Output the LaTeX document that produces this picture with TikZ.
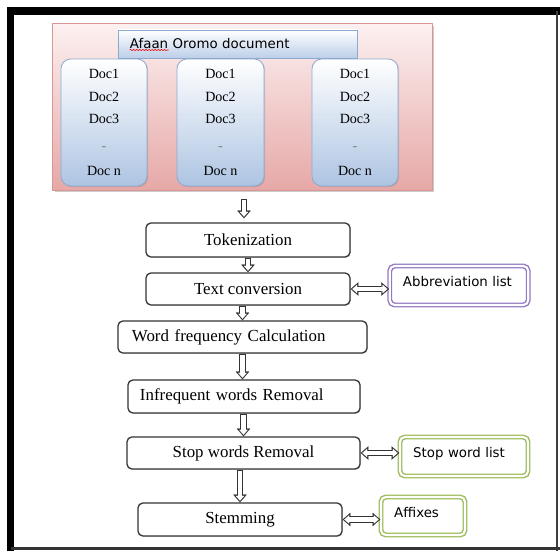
\documentclass[tikz,border=0pt]{standalone}
\usepackage{fontspec}
\setmainfont{Liberation Serif}
\newfontfamily\listfont{DejaVu Sans}
\usetikzlibrary{arrows.meta,calc,shadows,decorations.pathmorphing}
\definecolor{pinkline}{HTML}{D99694}
\definecolor{pinktop}{HTML}{FCF0F0}
\definecolor{pinkbot}{HTML}{E6A8A7}
\definecolor{docline}{HTML}{8EA9CF}
\definecolor{docbot}{HTML}{ADC4E2}
\definecolor{titlebot}{HTML}{BCCFE8}
\definecolor{abbrline}{HTML}{9478C2}
\definecolor{listgreen}{HTML}{9BBB59}

\begin{document}
\begin{tikzpicture}[x=0.025cm, y=-0.025cm,
    stepbox/.style={draw=black!80, line width=0.9pt, rounded corners=3.5pt, fill=white,
        drop shadow={shadow xshift=0.6pt, shadow yshift=-0.6pt, opacity=0.3},
        font=\fontsize{12}{14}\selectfont, inner sep=0pt, minimum width=5.1cm, minimum height=0.8cm},
    listbox/.style={draw=#1, line width=1pt, double=white, double distance=1.5pt, rounded corners=3.5pt, fill=white,
        font=\listfont\fontsize{9.5}{11}\selectfont, align=left, inner xsep=0.33cm, inner ysep=0pt,
        text depth=2mm, minimum height=0.975cm},
    docbox/.style={draw=docline, line width=0.6pt, rounded corners=7pt, top color=white, bottom color=docbot,
        drop shadow={shadow xshift=0.8pt, shadow yshift=-0.8pt, opacity=0.3},
        font=\fontsize{10}{16}\selectfont, align=center, minimum width=2.15cm, minimum height=3.175cm},
    hollow/.style={draw=black!80, line width=4.6pt, -{Triangle[length=5.5pt, width=9.5pt, line width=0.1pt]},
        postaction={draw=white, line width=3pt, shorten <=0.8pt, shorten >=1.2pt,
        -{Triangle[length=3.4pt, width=5.9pt, line width=0.1pt]}}},
    hollowboth/.style={draw=black!80, line width=4.6pt,
        {Triangle[length=5.5pt, width=9.5pt, line width=0.1pt]}-{Triangle[length=5.5pt, width=9.5pt, line width=0.1pt]},
        postaction={draw=white, line width=3pt, shorten <=1.2pt, shorten >=1.2pt,
        {Triangle[length=3.4pt, width=5.9pt, line width=0.1pt]}-{Triangle[length=3.4pt, width=5.9pt, line width=0.1pt]}}}
]
    \useasboundingbox (0,0) rectangle (560,551);
    % frame
    \draw[line width=5.7pt] (7,11) -- (560,11);
    \draw[line width=5pt] (10.5,7) -- (10.5,551);
    \draw[black!75, line width=1.4pt] (557,11) -- (557,551);
    \draw[black!80, line width=1.6pt] (10.5,548.5) -- (560,548.5);

    % document collection
    \node[draw=pinkline, line width=0.7pt, top color=pinktop, bottom color=pinkbot,
        drop shadow={shadow xshift=1.2pt, shadow yshift=-1.2pt, opacity=0.4},
        minimum width=9.475cm, minimum height=4.15cm, inner sep=0pt] (docs) at (242.5,107) {};
    \node[docbox] (colA) at (104,122.5) {Doc1\\Doc2\\Doc3\\[3pt]{\color{gray}-}\\[1.5pt]Doc n};
    \node[docbox, minimum width=2.175cm] (colB) at (220.5,122.5) {Doc1\\Doc2\\Doc3\\[3pt]{\color{gray}-}\\[1.5pt]Doc n};
    \node[docbox] (colC) at (355,122.5) {Doc1\\Doc2\\Doc3\\[3pt]{\color{gray}-}\\[1.5pt]Doc n};
    \node[draw=docline, line width=0.6pt, top color=white, bottom color=titlebot,
        drop shadow={shadow xshift=0.8pt, shadow yshift=-0.8pt, opacity=0.3},
        font=\listfont\fontsize{9.5}{11}\selectfont, minimum height=0.7cm,
        inner xsep=0.3cm, inner ysep=0pt, text width=5.375cm, align=left] (title) at (237.5,44) {Afaan Oromo document};
    \draw[red, line width=0.4pt, decorate, decoration={snake, amplitude=0.45pt, segment length=2.2pt}]
        ($(title.west)+(12,6)$) -- ++(39,0);

    % steps
    \node[stepbox, minimum height=0.85cm] (tok) at (248,240) {Tokenization};
    \node[stepbox] (conv) at (248,289) {Text conversion};
    \node[stepbox, minimum width=6.225cm, text width=5.525cm, inner xsep=0.35cm, align=left] (freq) at (242.5,337) {Word frequency Calculation};
    \node[stepbox, minimum width=5.8cm, minimum height=0.825cm, text width=5.2cm, inner xsep=0.3cm, align=left] (infreq) at (244,396.5) {Infrequent words Removal};
    \node[stepbox, minimum width=5.825cm] (stop) at (243.5,453) {Stop words Removal};
    \node[stepbox, minimum height=0.825cm] (stem) at (240,519.5) {Stemming};

    % resources
    \node[listbox=abbrline, text width=2.8cm] (abbrev) at (459,285.5) {Abbreviation list};
    \node[listbox=listgreen, text width=2.54cm] (slist) at (464,456.5) {Stop word list};
    \node[listbox=listgreen, text width=1.44cm, minimum height=0.95cm] (affix) at (423,516) {Affixes};

    % arrows
    \draw[hollow] ($(docs.south)+(1.5,8)$) -- ($(docs.south |- tok.north)+(1.5,-4)$);
    \draw[hollow] (tok.south) -- (tok.south |- conv.north);
    \draw[hollow] (freq.north |- conv.south) -- (freq.north);
    \draw[hollow] (freq.south) -- (freq.south |- infreq.north);
    \draw[hollow] (stop.north |- infreq.south) -- (stop.north);
    \draw[hollow] (stem.north |- stop.south) -- (stem.north);
    \draw[hollowboth] (conv.east) -- (conv.east -| abbrev.west);
    \draw[hollowboth] (stop.east) -- (stop.east -| slist.west);
    \draw[hollowboth] (stem.east) -- (stem.east -| affix.west);
\end{tikzpicture}
\end{document}
